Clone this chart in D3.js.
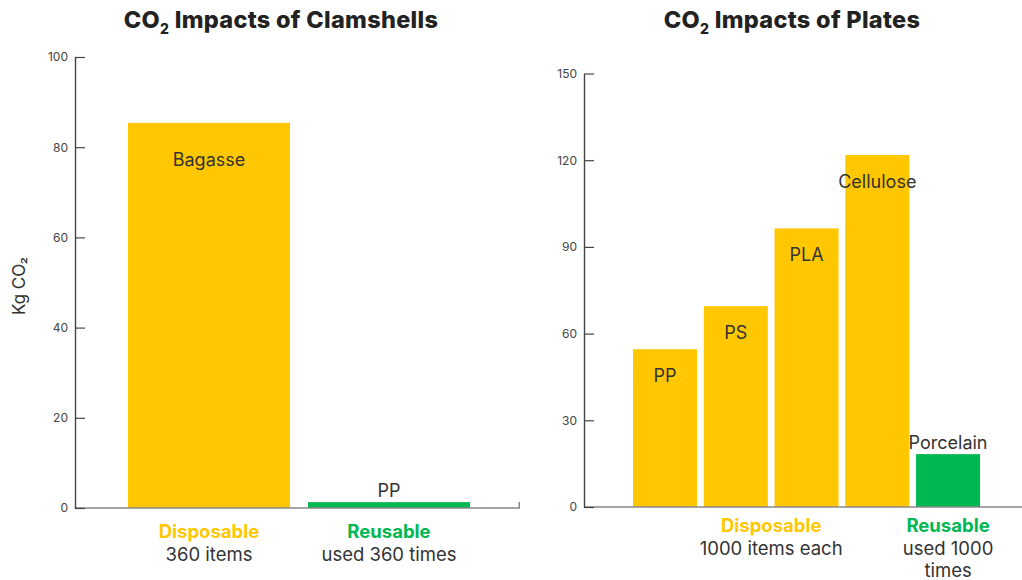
<!DOCTYPE html>
<html>
<head>
<meta charset="utf-8">
<script src="https://cdn.jsdelivr.net/npm/d3@7"></script>
<style>
  html, body { margin: 0; padding: 0; background: #fff; }
  svg { display: block; font-family: Inter, "Liberation Sans", Arial, sans-serif; }
</style>
</head>
<body>
<svg id="chart" width="1022" height="580"></svg>
<script>
// ---- Clamshells (kg CO2) ----
const clamCategories = ["Bagasse", "PP"];
const clamValues = [85.4, 1.3];
const clamTypes = ["Disposable", "Reusable"];
const clamTicks = [0, 20, 40, 60, 80, 100];
const clamGroupNotes = { Disposable: ["360 items"], Reusable: ["used 360 times"] };

// ---- Plates (kg CO2) ----
const plateCategories = ["PP", "PS", "PLA", "Cellulose", "Porcelain"];
const plateValues = [54.6, 69.5, 96.4, 121.8, 18.3];
const plateTypes = ["Disposable", "Disposable", "Disposable", "Disposable", "Reusable"];
const plateTicks = [0, 30, 60, 90, 120, 150];
const plateGroupNotes = { Disposable: ["1000 items each"], Reusable: ["used 1000", "times"] };

const typeColor = { Disposable: "#FFC700", Reusable: "#00B852" };
const textColor = "#333";

const svg = d3.select("#chart");
svg.append("rect").attr("width", 1022).attr("height", 580).attr("fill", "#fff");

function drawPanel(opt) {
  const { categories, values, types, ticks, notes, x, y, axisX, baseEnd, endTick,
          title, titleX, insideOffset, groupOffset } = opt;
  const g = svg.append("g");
  const data = categories.map((c, i) => ({ c, v: values[i], t: types[i] }));

  // title with subscript 2
  const t = g.append("text")
    .attr("x", titleX).attr("y", 28)
    .attr("text-anchor", "middle")
    .attr("font-size", 23.5).attr("font-weight", 800)
    .attr("letter-spacing", 0.3)
    .attr("fill", "#222");
  t.append("tspan").text("CO");
  t.append("tspan").attr("font-size", 14).attr("dy", 6).text("2");
  t.append("tspan").attr("dy", -6).text(" " + title);

  // bars
  g.selectAll("rect.bar").data(data).join("rect")
    .attr("class", "bar")
    .attr("x", d => x(d.c))
    .attr("width", x.bandwidth())
    .attr("y", d => y(d.v))
    .attr("height", d => y(0) - y(d.v))
    .attr("fill", d => typeColor[d.t]);

  // baseline
  const y0 = y(0);
  g.append("line")
    .attr("x1", axisX).attr("x2", baseEnd)
    .attr("y1", y0).attr("y2", y0)
    .attr("stroke", "#888").attr("stroke-width", 1.5);
  if (endTick) {
    g.append("line")
      .attr("x1", baseEnd - 0.75).attr("x2", baseEnd - 0.75)
      .attr("y1", y0).attr("y2", y0 - 6)
      .attr("stroke", "#888").attr("stroke-width", 1.5);
  }

  // y axis: ticks inside, labels outside
  const axis = g.append("g")
    .attr("transform", `translate(${axisX},0)`)
    .call(d3.axisLeft(y).tickValues(ticks).tickSize(-10).tickSizeOuter(0).tickPadding(7));
  axis.select(".domain").attr("stroke", "#444").attr("stroke-width", 1.4);
  axis.selectAll(".tick line").attr("stroke", "#444").attr("stroke-width", 1.2);
  axis.selectAll(".tick text")
    .attr("font-family", "Inter, 'Liberation Sans', Arial, sans-serif")
    .attr("font-size", 12).attr("fill", "#444");

  // bar labels
  g.selectAll("text.blabel").data(data).join("text")
    .attr("class", "blabel")
    .attr("x", d => x(d.c) + x.bandwidth() / 2)
    .attr("y", d => d.t === "Reusable" ? y(d.v) - 5 : y(d.v) + insideOffset)
    .attr("text-anchor", "middle")
    .attr("font-size", 18).attr("fill", textColor)
    .text(d => d.c);

  // group labels under the axis
  const groups = Array.from(new Set(types));
  groups.forEach(gr => {
    const members = data.filter(d => d.t === gr);
    const x0 = d3.min(members, d => x(d.c));
    const x1 = d3.max(members, d => x(d.c) + x.bandwidth());
    const cx = (x0 + x1) / 2;
    g.append("text")
      .attr("x", cx).attr("y", y0 + groupOffset)
      .attr("text-anchor", "middle")
      .attr("font-size", 18.5).attr("font-weight", 700)
      .attr("fill", typeColor[gr])
      .text(gr);
    notes[gr].forEach((line, i) => {
      g.append("text")
        .attr("x", cx).attr("y", y0 + groupOffset + 23 + i * 22)
        .attr("text-anchor", "middle")
        .attr("font-size", 18.5).attr("fill", textColor)
        .text(line);
    });
  });
}

// Clamshell panel
const xClam = d3.scaleBand(clamCategories, [119, 479]).paddingInner(0.1).paddingOuter(0.05);
const yClam = d3.scaleLinear([0, 100], [508, 57]);
drawPanel({
  categories: clamCategories, values: clamValues, types: clamTypes, ticks: clamTicks,
  notes: clamGroupNotes, x: xClam, y: yClam, axisX: 75, baseEnd: 520, endTick: true,
  title: "Impacts of Clamshells", titleX: 281, insideOffset: 43, groupOffset: 30
});

// Plates panel
const xPlate = d3.scaleBand(plateCategories, [629.5, 983.6]).paddingInner(0.095).paddingOuter(0.05);
const yPlate = d3.scaleLinear([0, 150], [507, 73.5]);
drawPanel({
  categories: plateCategories, values: plateValues, types: plateTypes, ticks: plateTicks,
  notes: plateGroupNotes, x: xPlate, y: yPlate, axisX: 584, baseEnd: 1022, endTick: false,
  title: "Impacts of Plates", titleX: 792, insideOffset: 33, groupOffset: 25
});

// y-axis title
svg.append("text")
  .attr("transform", "translate(25,286) rotate(-90)")
  .attr("text-anchor", "middle")
  .attr("font-size", 17).attr("fill", textColor)
  .text("Kg CO₂");
</script>
</body>
</html>
